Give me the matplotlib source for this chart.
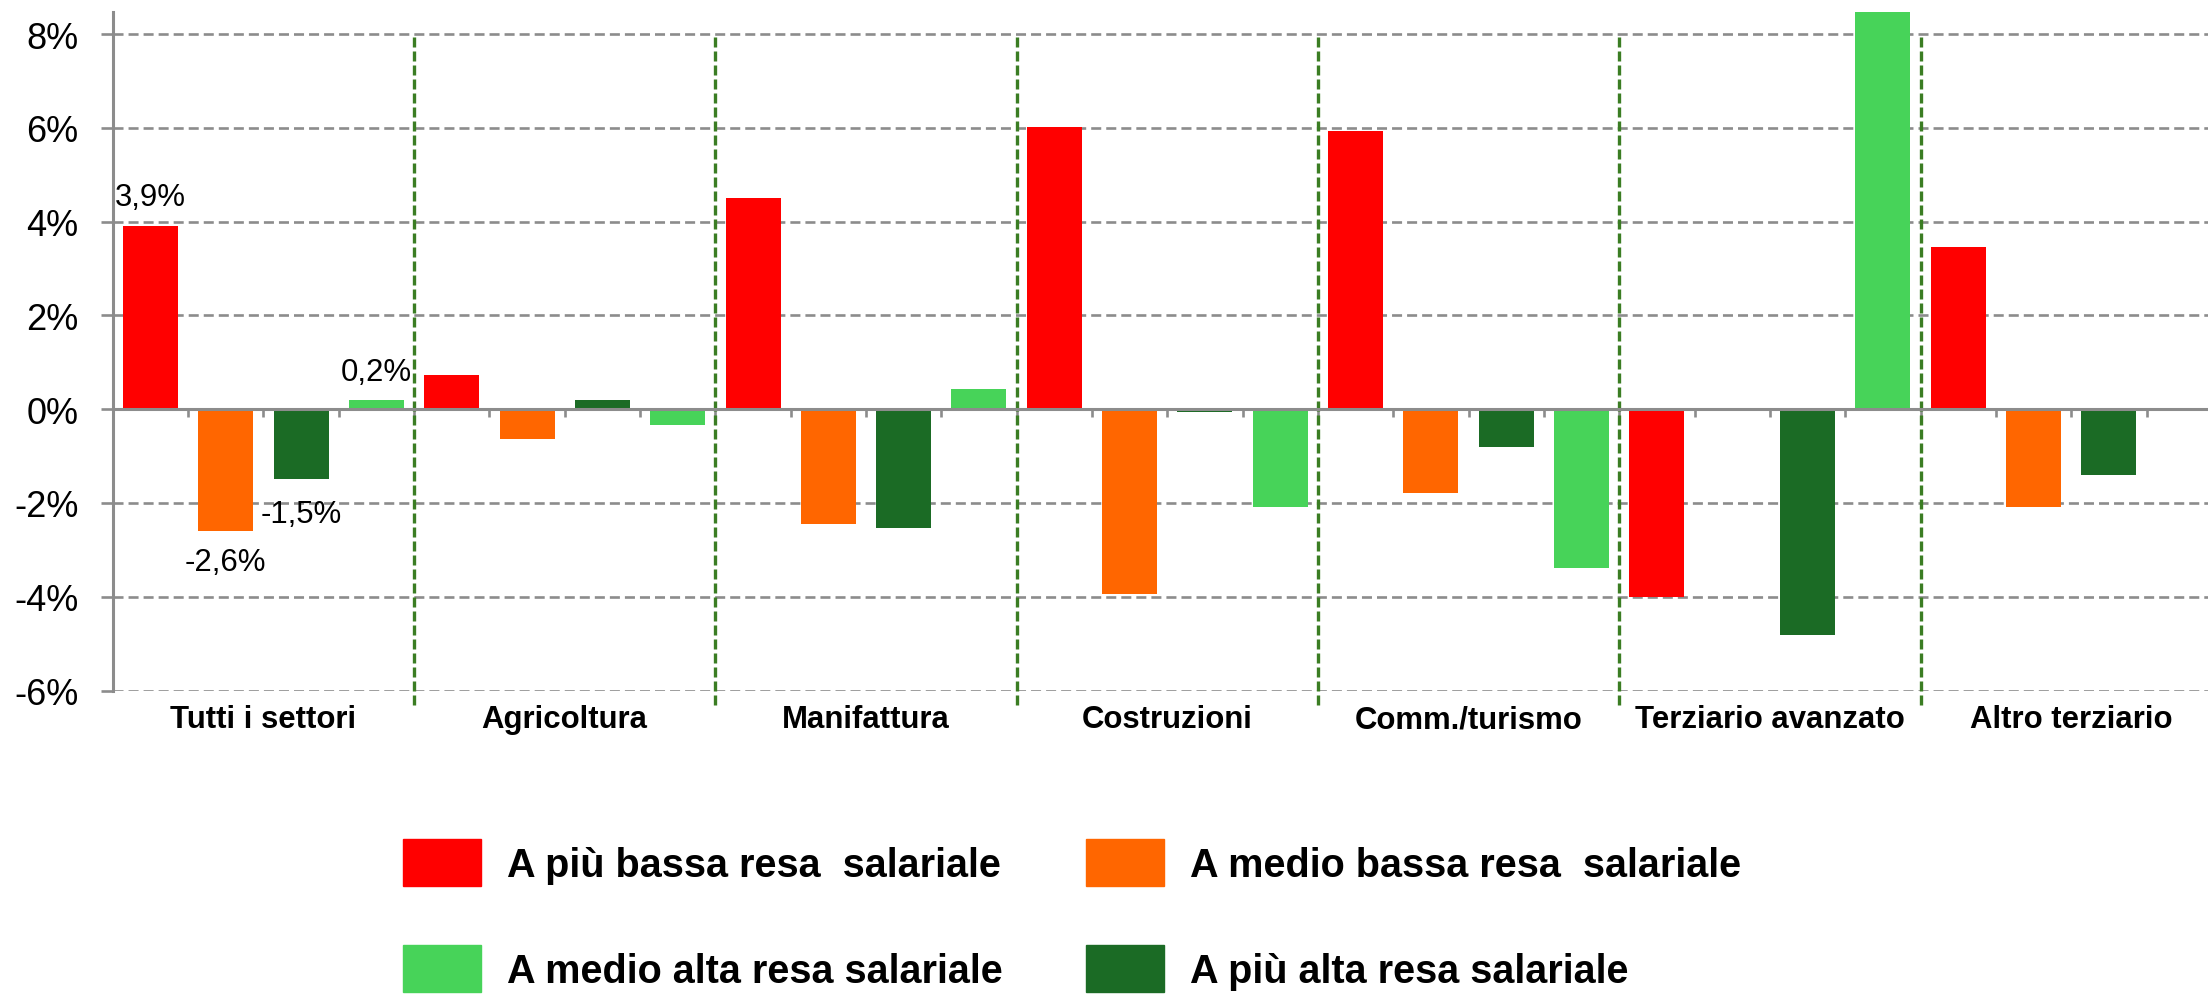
import numpy as np
import matplotlib
matplotlib.use("Agg")
import matplotlib.pyplot as plt
from matplotlib.patches import Patch
from matplotlib.ticker import FuncFormatter

plt.rcParams['font.family'] = ['Liberation Sans', 'DejaVu Sans']

# data (variazione %)
sectors = ["Tutti i settori", "Agricoltura", "Manifattura", "Costruzioni",
           "Comm./turismo", "Terziario avanzato", "Altro terziario"]
piu_bassa = [3.9, 0.72, 4.5, 6.01, 5.94, -4.0, 3.46]
medio_bassa = [-2.6, -0.64, -2.45, -3.95, -1.78, np.nan, -2.08]
piu_alta = [-1.5, 0.2, -2.54, -0.06, -0.8, -4.81, -1.41]
medio_alta = [0.2, -0.34, 0.43, -2.08, -3.38, 8.5, np.nan]

series = [
    ("A più bassa resa  salariale", piu_bassa, "#FF0000"),
    ("A medio bassa resa  salariale", medio_bassa, "#FF6600"),
    ("A più alta resa salariale", piu_alta, "#1B6B25"),
    ("A medio alta resa salariale", medio_alta, "#47D359"),
]
# labels shown only for the first group
labels_first = [3.9, -2.6, -1.5, 0.2]
label_offsets = [21, -22, -25, 20]

W, H = 2208, 995
fig = plt.figure(figsize=(W / 100, H / 100), dpi=100)

gray = "#8C8C8C"
slot = 75.33
n_slots = 4 * len(sectors)
left_px, top_px, bottom_px = 112.7, 12.7, 691.5
ax = fig.add_axes([left_px / W, 1 - bottom_px / H,
                   n_slots * slot / W, (bottom_px - top_px) / H])

x = np.arange(len(sectors)) * 4
for k, (name, vals, col) in enumerate(series):
    ax.bar(x + k + 0.5, vals, width=0.73, color=col, zorder=3)

ax.set_xlim(0, n_slots)
ax.set_ylim(-6, 8.476)
ax.set_yticks(np.arange(-6, 9, 2))
ax.yaxis.set_major_formatter(FuncFormatter(lambda v, p: f"{v:.0f}%"))
ax.tick_params(axis='y', length=8.6, width=1.9, color=gray, pad=16,
               labelsize=26)
ax.grid(axis='y', color=gray, linewidth=1.9, linestyle=(0, (3.8, 1.9)), zorder=1)

# zero line with small ticks at each slot
for s in ['top', 'right']:
    ax.spines[s].set_visible(False)
ax.spines['bottom'].set_position(('data', 0))
ax.spines['bottom'].set_color(gray)
ax.spines['bottom'].set_linewidth(2.2)
ax.spines['bottom'].set_zorder(4)
ax.spines['left'].set_color(gray)
ax.spines['left'].set_linewidth(2.2)
ax.set_xticks(np.arange(0, n_slots + 1, 1))
ax.set_xticklabels([])
ax.tick_params(axis='x', length=6, width=1.9, color=gray, direction='out')

# vertical separators between sectors
ax.vlines(x[1:], -6.31, 8, colors="#3B7D23", linewidth=2.4,
          linestyles=(0, (3, 1.2)), clip_on=False, zorder=2)

# sector names
for xi, s in zip(x, sectors):
    ax.text(xi + 2, -0.0545, s, transform=ax.get_xaxis_transform(),
            ha='center', va='baseline', fontsize=22.4, fontweight='bold')

# data labels for "Tutti i settori"
for k, (v, off) in enumerate(zip(labels_first, label_offsets)):
    ax.annotate(f"{v:.1f}".replace('.', ',') + "%", (k + 0.5, v),
                xytext=(0, off), textcoords='offset points',
                ha='center', va='center', fontsize=22.4)

handles = [Patch(color=series[0][2]), Patch(color=series[3][2]),
           Patch(color=series[1][2]), Patch(color=series[2][2])]
names = [series[0][0], series[3][0], series[1][0], series[2][0]]
fig.legend(handles, names, loc='upper left',
           bbox_to_anchor=(403 / W, 1 - 840 / H), ncol=2, frameon=False,
           borderpad=0, borderaxespad=0, handlelength=1.97, handleheight=1.45,
           handletextpad=0.66, columnspacing=2.1, labelspacing=1.5,
           prop={'size': 28.5, 'weight': 'bold'})

fig.savefig("out.png", dpi=100)
